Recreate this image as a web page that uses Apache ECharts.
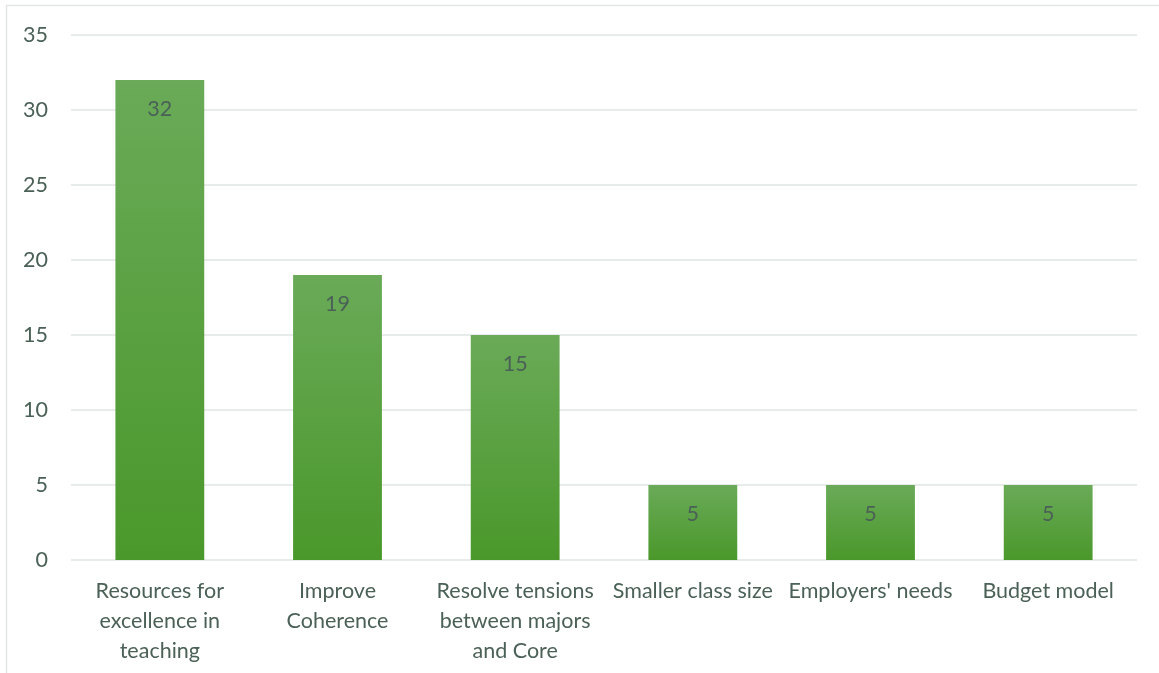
<!DOCTYPE html>
<html>
<head>
<meta charset="utf-8">
<script src="https://cdn.jsdelivr.net/npm/echarts@6/dist/echarts.min.js"></script>
<style>
  html, body { margin: 0; padding: 0; background: #ffffff; }
  #chart { width: 1159px; height: 673px; }
</style>
</head>
<body>
<div id="chart"></div>
<script>
// Priorities and how many responses named each one
const categories = [
  'Resources for\nexcellence in\nteaching',
  'Improve\nCoherence',
  'Resolve tensions\nbetween majors\nand Core',
  'Smaller class size',
  "Employers' needs",
  'Budget model'
];
const counts = [32, 19, 15, 5, 5, 5];
const yTicks = { min: 0, max: 35, interval: 5 };

const textColor = '#4b6157';
const fontFamily = 'Lato, "Open Sans", sans-serif';
const fontSize = 21.5;

const chart = echarts.init(document.getElementById('chart'));
chart.setOption({
  animation: false,
  backgroundColor: '#ffffff',
  graphic: [{
    type: 'rect',
    shape: { x: 6.5, y: 5.5, width: 1170, height: 700 },
    style: { fill: 'none', stroke: '#e1e7e4', lineWidth: 1.5 },
    silent: true
  }],
  grid: { left: 71, right: 22, top: 35, bottom: 113 },
  xAxis: {
    type: 'category',
    data: categories,
    axisLine: { show: false },
    axisTick: { show: false },
    axisLabel: {
      color: textColor,
      fontFamily: fontFamily,
      fontSize: fontSize,
      lineHeight: 30,
      margin: 16,
      interval: 0
    }
  },
  yAxis: {
    type: 'value',
    min: yTicks.min,
    max: yTicks.max,
    interval: yTicks.interval,
    axisLine: { show: false },
    axisTick: { show: false },
    axisLabel: {
      color: textColor,
      fontFamily: fontFamily,
      fontSize: fontSize,
      margin: 23
    },
    splitLine: { lineStyle: { color: '#dfe5e2', width: 1.5 } }
  },
  series: [{
    type: 'bar',
    data: counts,
    barWidth: '50%',
    itemStyle: {
      color: new echarts.graphic.LinearGradient(0, 0, 0, 1, [
        { offset: 0, color: '#6aaa58' },
        { offset: 1, color: '#4a982b' }
      ])
    },
    label: {
      show: true,
      position: 'insideTop',
      distance: 18,
      color: textColor,
      fontFamily: fontFamily,
      fontSize: fontSize
    }
  }]
});
</script>
</body>
</html>
